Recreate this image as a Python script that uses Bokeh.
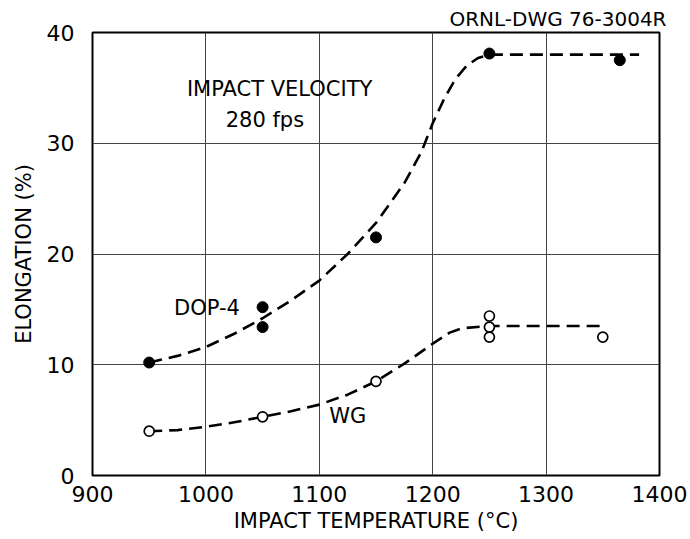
from bokeh.plotting import figure
from bokeh.models import Range1d, FixedTicker
from bokeh.embed import file_html
from bokeh.resources import INLINE
from bokeh.models import Label

# ---- data ----
dop4_temp = [950, 1050, 1050, 1150, 1250, 1365]
dop4_elong = [10.2, 15.2, 13.4, 21.5, 38.1, 37.5]

wg_temp = [950, 1050, 1150, 1250, 1250, 1250, 1350]
wg_elong = [4.0, 5.3, 8.5, 14.4, 13.4, 12.5, 12.5]

dop4_curve_t = [950, 975, 1000, 1025, 1050, 1075, 1100, 1125, 1150, 1175, 1190,
                1200, 1210, 1220, 1230, 1240, 1250, 1300, 1340, 1382]
dop4_curve_e = [10.2, 10.8, 11.6, 12.8, 14.2, 15.8, 17.6, 20.0, 22.8, 26.4, 29.2,
                31.8, 34.0, 35.8, 37.0, 37.7, 38.0, 38.0, 38.0, 38.0]

wg_curve_t = [950, 975, 1000, 1025, 1050, 1075, 1100, 1125, 1150, 1175, 1200,
              1215, 1226, 1250, 1300, 1352]
wg_curve_e = [4.0, 4.1, 4.4, 4.8, 5.3, 5.8, 6.4, 7.3, 8.5, 10.1, 11.9,
              12.9, 13.3, 13.5, 13.5, 13.5]

x_ticks = [900, 1000, 1100, 1200, 1300, 1400]
y_ticks = [0, 10, 20, 30, 40]

FONT = "DejaVu Sans"

p = figure(width=690, height=539, output_backend="svg", toolbar_location=None,
           x_range=Range1d(900, 1400), y_range=Range1d(0, 40),
           min_border_left=92, min_border_right=31, min_border_top=32,
           min_border_bottom=64, title="ORNL-DWG 76-3004R")
p.background_fill_color = "white"
p.border_fill_color = "white"
p.outline_line_color = "black"
p.outline_line_width = 2

p.title.align = "right"
p.title.text_font = FONT
p.title.text_font_size = "20px"
p.title.text_font_style = "normal"
p.title.text_color = "black"
p.title.standoff = 3
p.title.offset = -7

for ax in (p.xaxis[0], p.yaxis[0]):
    ax.axis_line_color = None
    ax.major_tick_line_color = None
    ax.minor_tick_line_color = None
    ax.major_tick_out = 0
    ax.major_tick_in = 0
    ax.major_label_text_font = FONT
    ax.major_label_text_font_size = "22px"
    ax.major_label_text_color = "black"
    ax.axis_label_text_font = FONT
    ax.axis_label_text_font_size = "21px"
    ax.axis_label_text_font_style = "normal"
    ax.axis_label_text_color = "black"

p.xaxis.ticker = FixedTicker(ticks=x_ticks)
p.yaxis.ticker = FixedTicker(ticks=y_ticks)
p.xaxis.axis_label = "IMPACT TEMPERATURE (°C)"
p.yaxis.axis_label = "ELONGATION (%)"
p.xaxis.major_label_standoff = 10
p.xaxis.axis_label_standoff = 4
p.yaxis.major_label_standoff = 18
p.yaxis.axis_label_standoff = 8

p.xgrid.ticker = FixedTicker(ticks=x_ticks)
p.ygrid.ticker = FixedTicker(ticks=y_ticks)
p.grid.grid_line_color = "#444444"
p.grid.grid_line_width = 1
p.grid.grid_line_alpha = 1

# curves
p.line(dop4_curve_t, dop4_curve_e, line_color="black", line_width=2.6, line_dash="13 7")
p.line(wg_curve_t, wg_curve_e, line_color="black", line_width=2.6, line_dash="13 7")

# points
p.scatter(dop4_temp, dop4_elong, size=11, marker="circle",
          fill_color="black", line_color="black")
p.scatter(wg_temp, wg_elong, size=10, marker="circle",
          fill_color="white", line_color="black", line_width=1.7)

def lab(x, y, t, size="21px"):
    p.add_layout(Label(x=x, y=y, text=t, text_font=FONT, text_font_size=size,
                       text_align="center", text_baseline="middle", text_color="black"))

lab(1065, 34.9, "IMPACT VELOCITY")
lab(1052, 32.1, "280 fps")
lab(1001, 15.1, "DOP-4")
lab(1125, 5.4, "WG")

open("out.html", "w").write(file_html(p, INLINE))
